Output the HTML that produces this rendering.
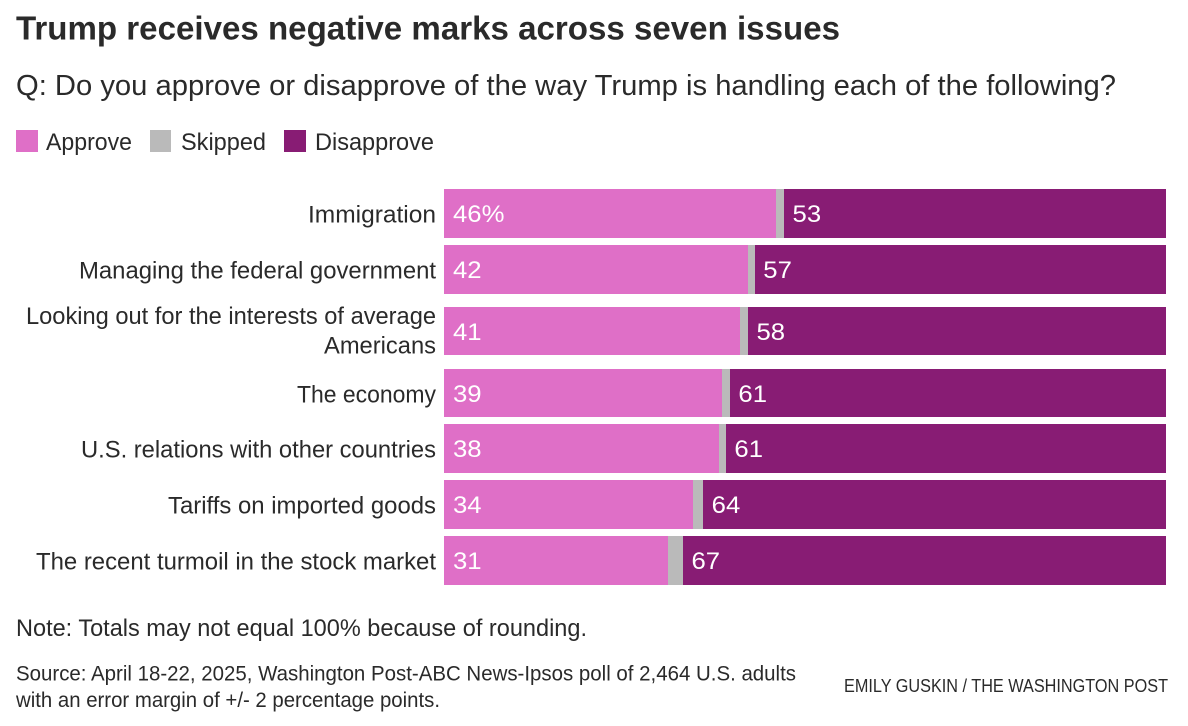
<!DOCTYPE html>
<html lang="en">
<head>
<meta charset="utf-8">
<title>Trump receives negative marks across seven issues</title>
<style>
html,body{margin:0;padding:0;background:#fff;width:1188px;height:726px;overflow:hidden}
svg{display:block}
text{font-family:"Liberation Sans",sans-serif;fill:#2a2a2a}
</style>
</head>
<body>
<svg id="chart" width="1188" height="726" viewBox="0 0 1188 726" xmlns="http://www.w3.org/2000/svg">
  <rect width="1188" height="726" fill="#fff"/>
  <text x="16" y="39.5" font-size="33" font-weight="700" textLength="824" lengthAdjust="spacingAndGlyphs">Trump receives negative marks across seven issues</text>
  <text x="16" y="95" font-size="29" textLength="1100" lengthAdjust="spacingAndGlyphs">Q: Do you approve or disapprove of the way Trump is handling each of the following?</text>

  <g>
    <rect x="16" y="130" width="22" height="22" fill="#df6fc7"/>
    <text x="46" y="150" font-size="24.5" textLength="86" lengthAdjust="spacingAndGlyphs">Approve</text>
    <rect x="150" y="130" width="21" height="22" fill="#bababa"/>
    <text x="181" y="150" font-size="24.5" textLength="85" lengthAdjust="spacingAndGlyphs">Skipped</text>
    <rect x="284" y="130" width="22" height="22" fill="#881c74"/>
    <text x="315" y="150" font-size="24.5" textLength="119" lengthAdjust="spacingAndGlyphs">Disapprove</text>
  </g>

  <g id="rows"></g>

  <text x="16" y="636" font-size="24" textLength="571" lengthAdjust="spacingAndGlyphs">Note: Totals may not equal 100% because of rounding.</text>
  <text x="16" y="680.5" font-size="21" textLength="780" lengthAdjust="spacingAndGlyphs">Source: April 18-22, 2025, Washington Post-ABC News-Ipsos poll of 2,464 U.S. adults</text>
  <text x="16" y="707" font-size="21" textLength="424" lengthAdjust="spacingAndGlyphs">with an error margin of +/- 2 percentage points.</text>
  <text x="844" y="692" font-size="18" textLength="324" lengthAdjust="spacingAndGlyphs">EMILY GUSKIN / THE WASHINGTON POST</text>
</svg>
<script>
const categories = [
  ["Immigration"],
  ["Managing the federal government"],
  ["Looking out for the interests of average", "Americans"],
  ["The economy"],
  ["U.S. relations with other countries"],
  ["Tariffs on imported goods"],
  ["The recent turmoil in the stock market"]
];
const approveValues = [46, 42.1, 41, 38.5, 38.1, 34.5, 31];
const skippedValues = [1.1, 0.95, 1.1, 1.1, 0.95, 1.4, 2.1];
const disapproveValues = [52.9, 56.95, 57.9, 60.4, 60.95, 64.1, 66.9];
const approveLabels = ["46%", "42", "41", "39", "38", "34", "31"];
const disapproveLabels = ["53", "57", "58", "61", "61", "64", "67"];

/* Typography fit for the substitute font: rendered label width by label text. */
const labelFit = {
  "Immigration": 128,
  "Managing the federal government": 357,
  "Looking out for the interests of average": 410,
  "Americans": 112,
  "The economy": 139,
  "U.S. relations with other countries": 355,
  "Tariffs on imported goods": 268,
  "The recent turmoil in the stock market": 400
};

const plotLeft = 444, plotWidth = 722, labelRight = 436;
const rowHeight = 48.9, wrappedRowHeight = 48.4, rowGap = 6.8, wrappedGapBefore = 13.2, wrappedGapAfter = 13.35;
const NS = "http://www.w3.org/2000/svg";
const valueStretch = 1.05;
function xScale(v) { return plotLeft + v / 100 * plotWidth; }
function addRect(parent, x0, x1, y0, y1, fill) {
  const r = document.createElementNS(NS, "rect");
  const left = Math.round(x0), top = Math.round(y0);
  r.setAttribute("x", left);
  r.setAttribute("y", top);
  r.setAttribute("width", Math.max(0, Math.round(x1) - left));
  r.setAttribute("height", Math.round(y1) - top);
  r.setAttribute("fill", fill);
  parent.appendChild(r);
  return r;
}
function addText(parent, str, x, y, size, fill, anchor, length) {
  const t = document.createElementNS(NS, "text");
  t.textContent = str;
  t.setAttribute("x", x);
  t.setAttribute("y", y);
  t.setAttribute("font-size", size);
  t.setAttribute("text-anchor", anchor);
  t.style.fill = fill;
  parent.appendChild(t);
  t.setAttribute("textLength", length === undefined ? (t.getComputedTextLength() * valueStretch).toFixed(1) : length);
  t.setAttribute("lengthAdjust", "spacingAndGlyphs");
  return t;
}
const rowsGroup = document.getElementById("rows");
let y = 189;
categories.forEach(function (lines, i) {
  const two = lines.length > 1;
  const h = two ? wrappedRowHeight : rowHeight;
  const g = document.createElementNS(NS, "g");
  
  
  rowsGroup.appendChild(g);

  const a = approveValues[i], s = skippedValues[i], d = disapproveValues[i];
  const xA = xScale(0), xS = xScale(a), xD = xScale(a + s), xE = xScale(a + s + d);

  const rA = addRect(g, xA, xS, y, y + h, "#df6fc7");
  
  
  const rS = addRect(g, xS, xD, y, y + h, "#bababa");
  
  
  const rD = addRect(g, xD, xE, y, y + h, "#881c74");
  
  

  const ty = Math.round(y) + 33;
  const tA = addText(g, approveLabels[i], xA + 9, ty, 24.5, "#fff", "start");
  
  
  const tD = addText(g, disapproveLabels[i], xD + 8.5, ty, 24.5, "#fff", "start");
  
  

  lines.forEach(function (line, j) {
    const ly = two ? Math.round(y) + 17 + j * 29.5 : Math.round(y) + 33.5;
    const tL = addText(g, line, labelRight, ly, 24.2, "#2a2a2a", "end", labelFit[line]);
    
    
  });

  const nextTwo = i + 1 < categories.length && categories[i + 1].length > 1;
  y += h + (two ? wrappedGapAfter : nextTwo ? wrappedGapBefore : rowGap);
});
</script>
</body>
</html>
